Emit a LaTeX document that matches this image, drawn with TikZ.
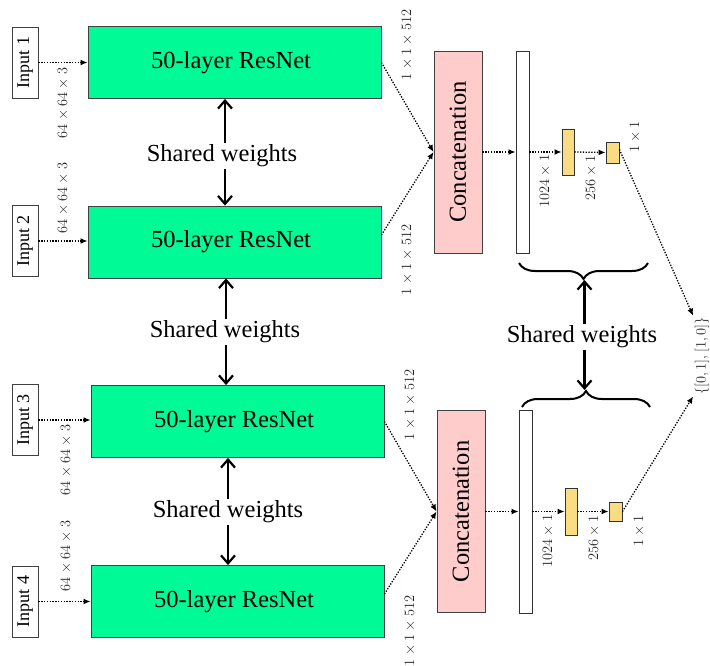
\documentclass[tikz,border=0pt]{standalone}
\usepackage{fontspec}
\setmainfont{Liberation Serif}
\usetikzlibrary{arrows.meta,decorations.pathreplacing,calc}
\definecolor{resgreen}{RGB}{0,250,150}
\definecolor{catpink}{RGB}{255,204,204}
\definecolor{fcyellow}{RGB}{250,220,130}
\begin{document}
\begin{tikzpicture}[x=1pt,y=-1pt,
  netbox/.style={draw=black!75, line width=0.9pt, fill=resgreen, minimum width=293pt, minimum height=72pt, inner sep=0pt, font=\fontsize{24.5}{28}\selectfont, execute at begin node=\hspace*{-7pt}},
  inbox/.style={draw=black!75, line width=0.9pt, fill=white, rotate=90, minimum width=71pt, minimum height=26pt, inner sep=0pt, font=\fontsize{18}{20}\selectfont},
  catbox/.style={draw=black!75, line width=0.9pt, fill=catpink, rotate=90, minimum width=202pt, minimum height=48pt, inner sep=0pt, font=\fontsize{24.5}{28}\selectfont},
  fcbar/.style={draw=black!80, line width=0.9pt, fill=#1, inner sep=0pt},
  dimlabel/.style={rotate=90, text=black!85, font=\fontsize{14}{16}\selectfont, inner sep=1pt},
  outlabel/.style={rotate=90, text=black!85, font=\fontsize{15}{17}\selectfont, inner sep=1.5pt},
  shared/.style={font=\fontsize{24.5}{28}\selectfont, inner sep=2pt},
  flow/.style={line width=1.3pt, dash pattern=on 1.3pt off 1.5pt, -{Latex[length=7pt,width=6pt]}},
  wlink/.style={line width=2.2pt, -{Straight Barb[length=8pt,width=14pt]}},
  bracket/.style={decorate, decoration={brace, amplitude=16pt}, line width=2pt},
]
\useasboundingbox (0,0) rectangle (710,666);

% ---- four ResNet branches ----
\node[netbox] (r1) at (234.5,62.5) {50-layer ResNet};
\node[netbox] (r2) at (234.5,242) {50-layer ResNet};
\node[netbox] (r3) at (237.5,421.5) {50-layer ResNet};
\node[netbox] (r4) at (237.5,601.5) {50-layer ResNet};

\node[inbox] (in1) at (25,62.5) {Input 1};
\node[inbox] (in2) at (25,241) {Input 2};
\node[inbox] (in3) at (25,420) {Input 3};
\node[inbox] (in4) at (25,601.5) {Input 4};

\draw[flow] (in1.south) -- (in1.south -| r1.west);
\draw[flow] (in2.south) -- (in2.south -| r2.west);
\draw[flow] (in3.south) -- (in3.south -| r3.west);
\draw[flow] (in4.south) -- (in4.south -| r4.west);

\node[dimlabel] (d1) at (63,103) {$64\times64\times3$};
\node[dimlabel] (d2) at (63,198) {$64\times64\times3$};
\node[dimlabel] (d3) at (66,460) {$64\times64\times3$};
\node[dimlabel] (d4) at (66,556) {$64\times64\times3$};

% ---- shared weights between the branches ----
\node[shared] (s1) at (222,156) {Shared weights};
\node[shared] (s2) at (225,332) {Shared weights};
\node[shared] (s3) at (228,512) {Shared weights};
\coordinate (a1) at (225,0);
\coordinate (a2) at (226,0);
\coordinate (a3) at (228,0);
\draw[wlink] (s1.north -| a1) -- (r1.south -| a1);
\draw[wlink] (s1.south -| a1) -- (r2.north -| a1);
\draw[wlink] (s2.north -| a2) -- (r2.south -| a2);
\draw[wlink] (s2.south -| a2) -- (r3.north -| a2);
\draw[wlink] (s3.north -| a3) -- (r3.south -| a3);
\draw[wlink] (s3.south -| a3) -- (r4.north -| a3);

% ---- feature sizes ----
\node[dimlabel] (o1) at (407,45) {$1\times1\times512$};
\node[dimlabel] (o2) at (407,260) {$1\times1\times512$};
\node[dimlabel] (o3) at (410,405) {$1\times1\times512$};
\node[dimlabel] (o4) at (410,631) {$1\times1\times512$};

% ---- upper head ----
\node[catbox] (c1) at (458,152) {Concatenation};
\node[fcbar=white, minimum width=13pt, minimum height=202pt] (w1) at (522.5,152) {};
\node[fcbar=fcyellow, minimum width=12pt, minimum height=46pt] (ya1) at (568,152) {};
\node[fcbar=fcyellow, minimum width=13pt, minimum height=21pt] (yb1) at (612.5,152.5) {};
\draw[flow] (r1.east) -- (c1.north);
\draw[flow] ([yshift=7pt]r2.east) -- (c1.north);
\draw[flow] (c1.south) -- (w1.west);
\draw[flow] (w1.east) -- (ya1.west);
\draw[flow] (ya1.east) -- (yb1.west);
\node[dimlabel] (f1) at (545,181) {$1024\times1$};
\node[dimlabel] (f2) at (591,178) {$256\times1$};
\node[dimlabel] (f3) at (635,137) {$1\times1$};

% ---- lower head ----
\node[catbox] (c2) at (461,511.5) {Concatenation};
\node[fcbar=white, minimum width=13pt, minimum height=203pt] (w2) at (525.5,511.5) {};
\node[fcbar=fcyellow, minimum width=12pt, minimum height=47pt] (ya2) at (571,511.5) {};
\node[fcbar=fcyellow, minimum width=13pt, minimum height=19pt] (yb2) at (615.5,511.5) {};
\draw[flow] (r3.east) -- (c2.north);
\draw[flow] ([yshift=7.5pt]r4.east) -- (c2.north);
\draw[flow] (c2.south) -- (w2.west);
\draw[flow] (w2.east) -- (ya2.west);
\draw[flow] (ya2.east) -- (yb2.west);
\node[dimlabel] (f4) at (548,541) {$1024\times1$};
\node[dimlabel] (f5) at (594,538) {$256\times1$};
\node[dimlabel] (f6) at (639,531) {$1\times1$};

% ---- shared weights between the heads ----
\draw[bracket] (648,263) -- (519,263);
\draw[bracket] (522,407) -- (650,407);
\coordinate (bt1) at (584.5,280);
\coordinate (bt2) at (584.5,390);
\node[shared] (s4) at (582,337) {Shared weights};
\draw[wlink] (s4.north -| bt1) -- (bt1);
\draw[wlink] (s4.south -| bt2) -- (bt2);

% ---- output ----
\node[outlabel] (out) at (702,356) {$\{[0,1],[1,0]\}$};
\draw[flow] ([yshift=3pt]yb1.east) -- (out.north east);
\draw[flow] (yb2.east) -- (out.north west);
\end{tikzpicture}
\end{document}
